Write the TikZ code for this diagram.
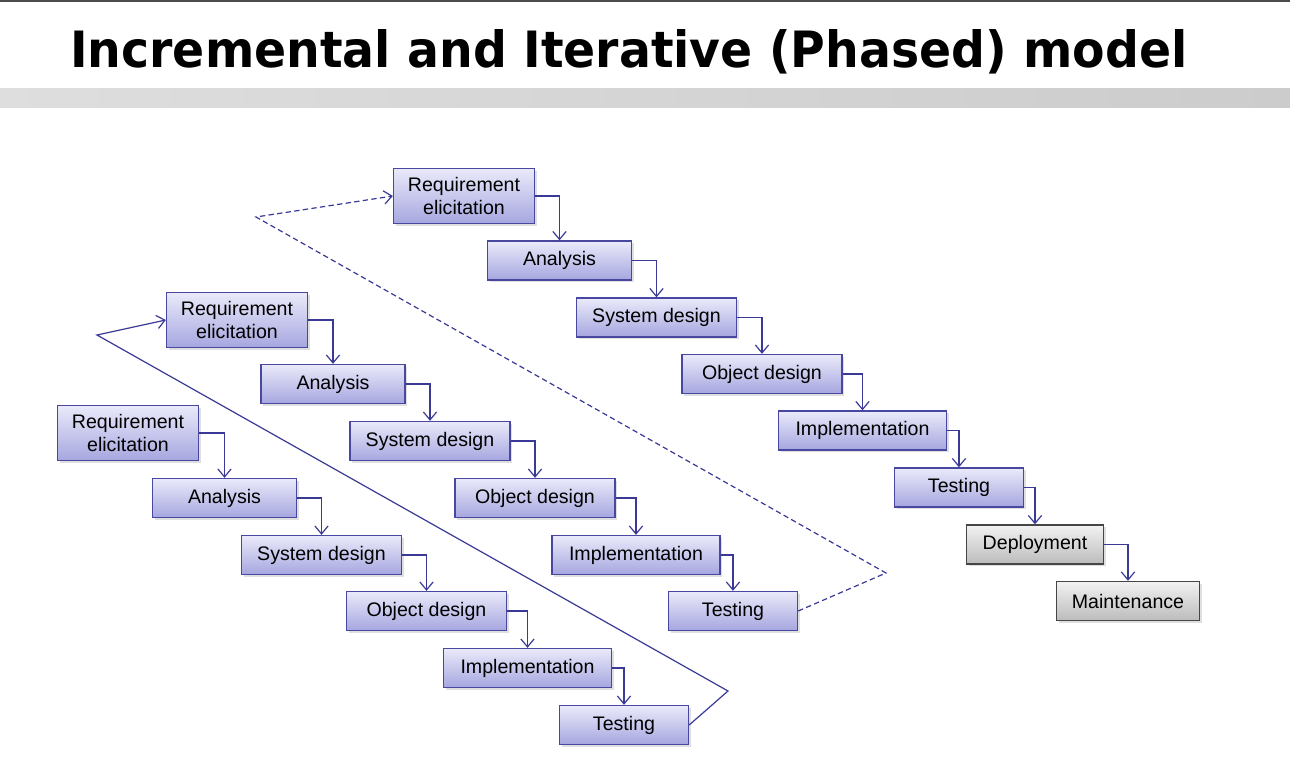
\documentclass[tikz,border=0pt]{standalone}
\usepackage{fontspec}
\setmainfont{Liberation Sans}
\newfontfamily\titlefont{DejaVu Sans}
\usetikzlibrary{arrows.meta,shadows}

\definecolor{flowblue}{RGB}{58,58,150}
\definecolor{boxedge}{RGB}{72,72,160}
\definecolor{boxtop}{RGB}{234,234,250}
\definecolor{boxbot}{RGB}{166,166,224}
\definecolor{greyedge}{RGB}{70,70,70}
\definecolor{greytop}{RGB}{242,242,242}
\definecolor{greybot}{RGB}{188,188,188}

\tikzset{
  phase/.style={draw=boxedge, line width=1pt, top color=boxtop, bottom color=boxbot,
    minimum height=39pt*0.75, inner sep=2pt, align=center,
    font=\fontsize{14.7}{17.3}\selectfont,
    drop shadow={shadow xshift=1.5pt, shadow yshift=-1.5pt, opacity=0.25}},
  twoline/.style={minimum height=55pt*0.75},
  lastphase/.style={phase, draw=greyedge, top color=greytop, bottom color=greybot},
  flow/.style={draw=flowblue, line width=0.9pt, -{Straight Barb[length=6pt,width=10pt]}},
  loopback/.style={flow, line join=miter},
  nextround/.style={flow, dashed, dash pattern=on 4pt off 2.5pt}
}

\begin{document}
\begin{tikzpicture}[x=0.75pt,y=-0.75pt]
\useasboundingbox[fill=white] (0,0) rectangle (1290,778);
% title and bars
\fill[black!70] (0,0) rectangle (1290,2);
\shade[left color=black!13, right color=black!20] (0,88) rectangle (1290,107);
\node[anchor=base west, inner sep=0pt] (title) at (70,67)
  {\resizebox{838pt}{28.5pt}{\titlefont\bfseries Incremental and Iterative (Phased) model}};

% first increment
\node[phase, twoline, minimum width=141pt*0.75] (r1) at (128,433) {Requirement\\elicitation};
\node[phase, minimum width=144pt*0.75] (a1) at (224.5,498) {Analysis};
\node[phase, minimum width=160pt*0.75] (s1) at (321.5,555) {System design};
\node[phase, minimum width=160pt*0.75] (o1) at (426.5,611) {Object design};
\node[phase, minimum width=168pt*0.75] (i1) at (527.5,668) {Implementation};
\node[phase, minimum width=129pt*0.75] (t1) at (624,725) {Testing};

% second increment
\node[phase, twoline, minimum width=141pt*0.75] (r2) at (237,320) {Requirement\\elicitation};
\node[phase, minimum width=144pt*0.75] (a2) at (333,384) {Analysis};
\node[phase, minimum width=160pt*0.75] (s2) at (430,441) {System design};
\node[phase, minimum width=160pt*0.75] (o2) at (535,498) {Object design};
\node[phase, minimum width=168pt*0.75] (i2) at (636,555) {Implementation};
\node[phase, minimum width=129pt*0.75] (t2) at (733,611) {Testing};

% third increment
\node[phase, twoline, minimum width=141pt*0.75] (r3) at (464,196) {Requirement\\elicitation};
\node[phase, minimum width=144pt*0.75] (a3) at (559.5,260.5) {Analysis};
\node[phase, minimum width=160pt*0.75] (s3) at (656.5,317.5) {System design};
\node[phase, minimum width=160pt*0.75] (o3) at (762,374) {Object design};
\node[phase, minimum width=168pt*0.75] (i3) at (862.5,430.5) {Implementation};
\node[phase, minimum width=129pt*0.75] (t3) at (959,487.5) {Testing};
\node[lastphase, minimum width=137pt*0.75] (d3) at (1035,544.5) {Deployment};
\node[lastphase, minimum width=143pt*0.75] (m3) at (1128,601) {Maintenance};

% steps within each increment
\draw[flow] (r1.east) -| (a1.north);
\draw[flow] (a1.east) -| (s1.north);
\draw[flow] (s1.east) -| (o1.north);
\draw[flow] (o1.east) -| (i1.north);
\draw[flow] (i1.east) -| (t1.north);

\draw[flow] (r2.east) -| (a2.north);
\draw[flow] (a2.east) -| (s2.north);
\draw[flow] (s2.east) -| (o2.north);
\draw[flow] (o2.east) -| (i2.north);
\draw[flow] (i2.east) -| (t2.north);

\draw[flow] (r3.east) -| (a3.north);
\draw[flow] (a3.east) -| (s3.north);
\draw[flow] (s3.east) -| (o3.north);
\draw[flow] (o3.east) -| (i3.north);
\draw[flow] (i3.east) -| (t3.north);
\draw[flow] (t3.east) -| (d3.north);
\draw[flow] (d3.east) -| (m3.north);

% back to the next increment
\coordinate (k1) at (728,691);
\coordinate (k2) at (97,335);
\draw[loopback] (t1.east) -- (k1) -- (k2) -- (r2.west);

\coordinate (k3) at (886,573);
\coordinate (k4) at (256,217);
\draw[nextround] (t2.east) -- (k3) -- (k4) -- (r3.west);
\end{tikzpicture}
\end{document}
